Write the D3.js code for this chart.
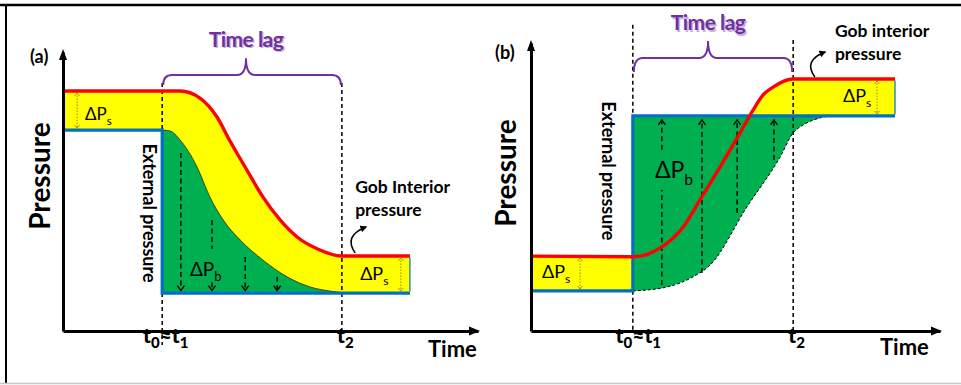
<!DOCTYPE html>
<html>
<head>
<meta charset="utf-8">
<script src="https://cdn.jsdelivr.net/npm/d3@7"></script>
<style>
  body { margin: 0; background: #fff; }
  svg { display: block; font-family: Lato, "Open Sans", sans-serif; }
</style>
</head>
<body>
<svg id="chart" width="961" height="385"></svg>
<script>
// ---------- (a) pressure drop: gob interior lags behind the outside ----------
const timeMarksA = [2.39, 6.72];                       // t0≈t1, t2
const gobPressureA = [[0, 8.6], [2.82, 8.6], [3.30, 8.35], [3.71, 7.67], [4.02, 6.82],
  [4.43, 5.77], [4.82, 4.80], [5.23, 3.98], [5.64, 3.37], [6.12, 2.95], [6.72, 2.69], [8.36, 2.69]];
const externalPressureA = [[0, 7.2], [2.39, 7.2], [2.39, 1.36], [8.36, 1.36]];
const bandLowerEdgeA = [[2.39, 7.2], [2.58, 7.17], [2.82, 6.85], [3.23, 5.88], [3.54, 4.80],
  [3.86, 3.98], [4.27, 3.26], [4.82, 2.54], [5.40, 1.94], [5.95, 1.58], [6.43, 1.43], [6.80, 1.36]];
const flowTimesA = [2.84, 3.59, 4.39, 5.16];
const flowStartA = [6.38, 3.98, 2.65, 1.94];
const flowEndA = [1.45, 1.45, 1.45, 1.45];

// ---------- (b) pressure rise ----------
const timeMarksB = [2.49, 6.41];
const gobPressureB = [[0, 2.60], [2.49, 2.58], [3.20, 2.92], [3.72, 3.61], [4.13, 4.55],
  [4.62, 5.69], [5.11, 6.88], [5.43, 7.67], [5.67, 8.19], [5.92, 8.47], [6.41, 8.75], [8.90, 8.75]];
const externalPressureB = [[0, 1.39], [2.49, 1.39], [2.49, 7.47], [8.90, 7.47]];
const inflowFrontB = [[2.49, 1.39], [3.33, 1.53], [3.96, 1.88], [4.38, 2.29], [5.28, 4.31],
  [6.09, 6.04], [6.41, 6.88], [6.65, 7.15], [7.07, 7.40], [7.31, 7.47]];
const flowTimesB = [3.20, 4.18, 5.04, 5.94];
const flowStartB = [1.60, 2.01, 4.10, 5.94];
const flowEndB = [7.33, 7.33, 7.33, 7.33];

// tick labels as [text, subscript] pairs
const tickLabels = [[["t", "0"], ["≈t", "1"]], [["t", "2"]]];

const C = {
  red: "#ff0000", blue: "#0070c0", yellow: "#ffff00", green: "#00b050",
  purple: "#7030a0", olive: "#8a8a40"
};
const FONT = "Lato, 'Open Sans', sans-serif";

const svg = d3.select("#chart");

// outer frame
svg.append("line").attr("x1", 0).attr("x2", 961).attr("y1", 5).attr("y2", 5)
  .attr("stroke", "#000").attr("stroke-width", 2.5);
svg.append("line").attr("x1", 6).attr("x2", 6).attr("y1", 5).attr("y2", 383)
  .attr("stroke", "#000").attr("stroke-width", 2);
svg.append("line").attr("x1", 0).attr("x2", 961).attr("y1", 383.5).attr("y2", 383.5)
  .attr("stroke", "#c8c8c8").attr("stroke-width", 1.5);

const defs = svg.append("defs");
defs.append("marker").attr("id", "curlHead").attr("viewBox", "0 0 10 10")
  .attr("refX", 8).attr("refY", 5).attr("markerWidth", 7).attr("markerHeight", 7)
  .attr("markerUnits", "userSpaceOnUse").attr("orient", "auto")
  .append("path").attr("d", "M0,0L10,5L0,10Z").attr("fill", "#000");

function subLabel(g, x, y, base, sub, size, weight, color) {
  const t = g.append("text").attr("x", x).attr("y", y)
    .attr("font-size", size).attr("font-weight", weight || "normal")
    .attr("fill", color || "#000").attr("font-family", FONT);
  t.append("tspan").text(base);
  t.append("tspan").attr("font-size", size * 0.68).attr("dy", size * 0.28).text(sub);
  return t;
}

function chevron(g, x, y, dir, w, h, color, sw) {
  // dir = +1 points down, -1 points up
  g.append("path")
    .attr("d", `M${x - w},${y - dir * h}L${x},${y}L${x + w},${y - dir * h}`)
    .attr("fill", "none").attr("stroke", color).attr("stroke-width", sw);
}

function drawPanel(cfg) {
  const g = svg.append("g");
  const x = d3.scaleLinear().domain([0, 10]).range(cfg.xRange);
  const y = d3.scaleLinear().domain([0, 10]).range(cfg.yRange);
  const mono = d3.line().x(d => x(d[0])).y(d => y(d[1])).curve(d3.curveMonotoneX);
  const straight = d3.line().x(d => x(d[0])).y(d => y(d[1]));
  const pt = d => `L${x(d[0])},${y(d[1])}`;

  cfg.fills(g, x, y, mono, straight, pt);

  // time marks
  cfg.marks.forEach(m => {
    g.append("line").attr("x1", x(m.t)).attr("x2", x(m.t))
      .attr("y1", y(m.p0)).attr("y2", y(m.p1))
      .attr("stroke", "#000").attr("stroke-width", 1.5).attr("stroke-dasharray", "4,3");
  });

  // pressure-difference flow arrows
  cfg.flows.times.forEach((t, i) => {
    const p0 = cfg.flows.start[i], p1 = cfg.flows.end[i];
    const gap = cfg.flows.gaps[i];
    let segs = [[p0, p1]];
    if (gap) segs = p0 > p1 ? [[p0, gap[1]], [gap[0], p1]] : [[p0, gap[0]], [gap[1], p1]];
    segs.forEach(s => g.append("line").attr("x1", x(t)).attr("x2", x(t))
      .attr("y1", y(s[0])).attr("y2", y(s[1]))
      .attr("stroke", "#000").attr("stroke-width", 1.4).attr("stroke-dasharray", "5,3.5"));
    chevron(g, x(t), y(p1), p0 > p1 ? 1 : -1, 3.5, 5, "#000", 1.4);
  });

  // gob interior pressure (red) and external pressure (blue)
  g.append("path").attr("d", straight(cfg.external)).attr("fill", "none")
    .attr("stroke", C.blue).attr("stroke-width", 3.2);
  g.append("path").attr("d", mono(cfg.gob)).attr("fill", "none")
    .attr("stroke", C.red).attr("stroke-width", 3.4).attr("stroke-linejoin", "round");
  // thin right edge of the band
  const last = cfg.gob[cfg.gob.length - 1], lastE = cfg.external[cfg.external.length - 1];
  g.append("line").attr("x1", x(last[0])).attr("x2", x(last[0]))
    .attr("y1", y(last[1]) + 1.5).attr("y2", y(lastE[1]) - 1.5)
    .attr("stroke", C.blue).attr("stroke-width", 1.2);

  // ΔPs dotted double arrows
  cfg.spanArrows.forEach(a => {
    g.append("line").attr("x1", x(a.t)).attr("x2", x(a.t))
      .attr("y1", y(a.p0) + 1.5).attr("y2", y(a.p1) - 1.5)
      .attr("stroke", C.olive).attr("stroke-width", 1).attr("stroke-dasharray", "1.5,1.5");
    chevron(g, x(a.t), y(a.p0) + 2, -1, 2.5, 3, C.olive, 0.9);
    chevron(g, x(a.t), y(a.p1) - 2, 1, 2.5, 3, C.olive, 0.9);
  });

  // axes
  const xAxis = d3.axisBottom(x).tickValues(cfg.marks.map(m => m.t)).tickSize(0)
    .tickPadding(12).tickSizeOuter(0);
  const gx = g.append("g").attr("transform", `translate(0,${y(0)})`).call(xAxis)
    .attr("font-family", FONT).attr("font-size", 21);
  gx.select(".domain").attr("stroke", "#000").attr("stroke-width", 3);
  gx.selectAll(".tick text").each(function (d, i) {
    const t = d3.select(this).text(null).attr("font-weight", 900).attr("fill", "#000")
      .attr("dx", cfg.tickDx[i]);
    tickLabels[i].forEach(([base, sub], k) => {
      t.append("tspan").attr("dy", k ? -5 : 0).text(base);
      t.append("tspan").attr("dy", 5).attr("font-size", 15).text(sub);
    });
  });
  const yAxis = d3.axisLeft(y).tickValues([]).tickSizeOuter(0);
  const gy = g.append("g").attr("transform", `translate(${x(0)},0)`).call(yAxis);
  gy.select(".domain").attr("stroke", "#000").attr("stroke-width", 3);
  const xe = x(10), y0 = y(0), ye = y(10), x0 = x(0);
  g.append("path").attr("d", `M${xe + 2},${y0}L${xe - 9},${y0 - 4.5}L${xe - 9},${y0 + 4.5}Z`).attr("fill", "#000");
  g.append("path").attr("d", `M${x0},${ye - 3}L${x0 - 4},${ye + 8}L${x0 + 4},${ye + 8}Z`).attr("fill", "#000");

  // axis titles and panel tag
  g.append("text").attr("x", cfg.timeTitle[0]).attr("y", cfg.timeTitle[1])
    .attr("font-size", 22).attr("font-weight", "bold").attr("font-family", FONT).text("Time");
  g.append("text").attr("transform", `translate(${cfg.pressTitle[0]},${cfg.pressTitle[1]}) rotate(-90)`)
    .attr("text-anchor", "middle").attr("font-size", 28).attr("font-weight", "bold")
    .attr("font-family", FONT).text("Pressure");
  g.append("text").attr("x", cfg.tag[0]).attr("y", cfg.tag[1]).attr("font-size", 18)
    .attr("font-weight", "bold").attr("font-family", FONT).text(cfg.tagText);

  // time-lag brace
  const b = cfg.brace, bx0 = x(cfg.marks[0].t) + 1, bx1 = x(cfg.marks[1].t) - 1;
  const bm = x(b.mid), yb = y(b.bar), yEnd = y(b.end), yt = y(b.tip), r = 9;
  g.append("path")
    .attr("d", `M${bx0},${yEnd}Q${bx0},${yb} ${bx0 + r},${yb}L${bm - r},${yb}Q${bm},${yb} ${bm},${yt}` +
      `Q${bm},${yb} ${bm + r},${yb}L${bx1 - r},${yb}Q${bx1},${yb} ${bx1},${yEnd}`)
    .attr("fill", "none").attr("stroke", C.purple).attr("stroke-width", 2);
  [["#c9b3dd", 1.5], [C.purple, 0]].forEach(([col, off]) => {
    g.append("text").attr("x", bm + off).attr("y", y(b.label) + off).attr("text-anchor", "middle")
      .attr("font-size", 21).attr("font-weight", "bold").attr("font-family", FONT)
      .attr("fill", col).attr("letter-spacing", -0.5).text("Time lag");
  });

  // ΔP labels
  cfg.psLabels.forEach(l => subLabel(g, x(l.t), y(l.p), "ΔP", "s", l.size));
  subLabel(g, x(cfg.pb.t), y(cfg.pb.p), "ΔP", "b", cfg.pb.size);

  // external pressure label
  g.append("text").attr("transform", `translate(${x(cfg.ext.t)},${y(cfg.ext.p)}) rotate(90)`)
    .attr("text-anchor", "middle").attr("dy", "0.35em").attr("font-size", 18)
    .attr("font-weight", "bold").attr("font-family", FONT).text("External pressure");

  // gob interior pressure label with curled pointer
  const gl = g.append("text").attr("font-size", 17.5).attr("font-weight", "bold")
    .attr("font-family", FONT);
  gl.append("tspan").attr("x", x(cfg.gobLabel.t)).attr("y", y(cfg.gobLabel.p)).text(cfg.gobLabel.line1);
  gl.append("tspan").attr("x", x(cfg.gobLabel.t)).attr("dy", 23).text("pressure");
  const ta = cfg.curl.tail, tp = cfg.curl.tip;
  g.append("path")
    .attr("d", `M${x(ta[0])},${y(ta[1])}Q${x(ta[0]) - 12},${(y(ta[1]) + y(tp[1])) / 2 - 4} ${x(tp[0])},${y(tp[1])}`)
    .attr("fill", "none").attr("stroke", "#000").attr("stroke-width", 1.6)
    .attr("marker-end", "url(#curlHead)");
}

// ---------------- panel (a) ----------------
drawPanel({
  xRange: [63, 478], yRange: [331, 52],
  gob: gobPressureA, external: externalPressureA,
  fills: (g, x, y, mono, straight, pt) => {
    const yellow = mono(gobPressureA) + externalPressureA.slice().reverse().map(pt).join("") + "Z";
    g.append("path").attr("d", yellow).attr("fill", C.yellow);
    const green = mono(bandLowerEdgeA) + pt([bandLowerEdgeA[0][0], externalPressureA[2][1]]) + "Z";
    g.append("path").attr("d", green).attr("fill", C.green);
    g.append("path").attr("d", mono(bandLowerEdgeA)).attr("fill", "none")
      .attr("stroke", "#2d3a10").attr("stroke-width", 0.9);
  },
  marks: [{ t: timeMarksA[0], p0: 8.89, p1: -0.5 }, { t: timeMarksA[1], p0: 8.89, p1: -0.12 }],
  tickDx: [3, 3],
  flows: { times: flowTimesA, start: flowStartA, end: flowEndA, gaps: [null, [1.75, 2.95], null, null] },
  spanArrows: [{ t: 0.34, p0: 8.6, p1: 7.2 }, { t: 8.14, p0: 2.69, p1: 1.36 }],
  timeTitle: [428, 357], pressTitle: [50, 176], tag: [30, 63], tagText: "(a)",
  brace: { mid: 4.41, bar: 9.18, end: 8.82, tip: 9.78, label: 10.18 },
  psLabels: [{ t: 0.53, p: 7.56, size: 17 }, { t: 7.16, p: 1.83, size: 18 }],
  pb: { t: 3.06, p: 1.97, size: 19 },
  ext: { t: 2.07, p: 4.23 },
  gobLabel: { t: 7.04, p: 4.94, line1: "Gob Interior" },
  curl: { tail: [7.04, 2.80], tip: [7.30, 3.73] }
});

// ---------------- panel (b) ----------------
drawPanel({
  xRange: [531, 940], yRange: [331, 43],
  gob: gobPressureB, external: externalPressureB,
  fills: (g, x, y, mono, straight, pt) => {
    const t0 = timeMarksB[0], pLow = externalPressureB[0][1], pHigh = externalPressureB[2][1];
    const leftBand = d3.area().x(d => x(d[0])).y0(y(pLow)).y1(d => y(d[1]))
      (gobPressureB.filter(d => d[0] <= t0));
    g.append("path").attr("d", leftBand).attr("fill", C.yellow);
    const green = mono(inflowFrontB) + pt([t0, pHigh]) + "Z";
    g.append("path").attr("d", green).attr("fill", C.green);
    g.append("clipPath").attr("id", "aboveExternal").append("rect")
      .attr("x", 0).attr("y", 0).attr("width", 961).attr("height", y(pHigh));
    const rightBand = d3.area().x(d => x(d[0])).y0(y(pHigh)).y1(d => y(d[1]))
      .curve(d3.curveMonotoneX)(gobPressureB.filter(d => d[0] >= t0));
    g.append("path").attr("d", rightBand).attr("fill", C.yellow).attr("clip-path", "url(#aboveExternal)");
    g.append("path").attr("d", mono(inflowFrontB)).attr("fill", "none")
      .attr("stroke", "#000").attr("stroke-width", 1).attr("stroke-dasharray", "3,2");
  },
  marks: [{ t: timeMarksB[0], p0: 10.63, p1: 0 }, { t: timeMarksB[1], p0: 10.10, p1: 0 }],
  tickDx: [5, 3],
  flows: { times: flowTimesB, start: flowStartB, end: flowEndB, gaps: [[4.90, 6.29], null, null, null] },
  spanArrows: [{ t: 8.46, p0: 8.75, p1: 7.47 }, { t: 1.20, p0: 2.60, p1: 1.39 }],
  timeTitle: [880, 355], pressTitle: [516, 173], tag: [495, 59], tagText: "(b)",
  brace: { mid: 4.33, bar: 9.48, end: 8.99, tip: 10.07, label: 10.45 },
  psLabels: [{ t: 7.63, p: 7.95, size: 18 }, { t: 0.27, p: 1.84, size: 18 }],
  pb: { t: 3.03, p: 5.31, size: 23 },
  ext: { t: 1.88, p: 5.56 },
  gobLabel: { t: 7.43, p: 10.21, line1: "Gob interior" },
  curl: { tail: [6.94, 8.82], tip: [7.19, 9.69] }
});
</script>
</body>
</html>
